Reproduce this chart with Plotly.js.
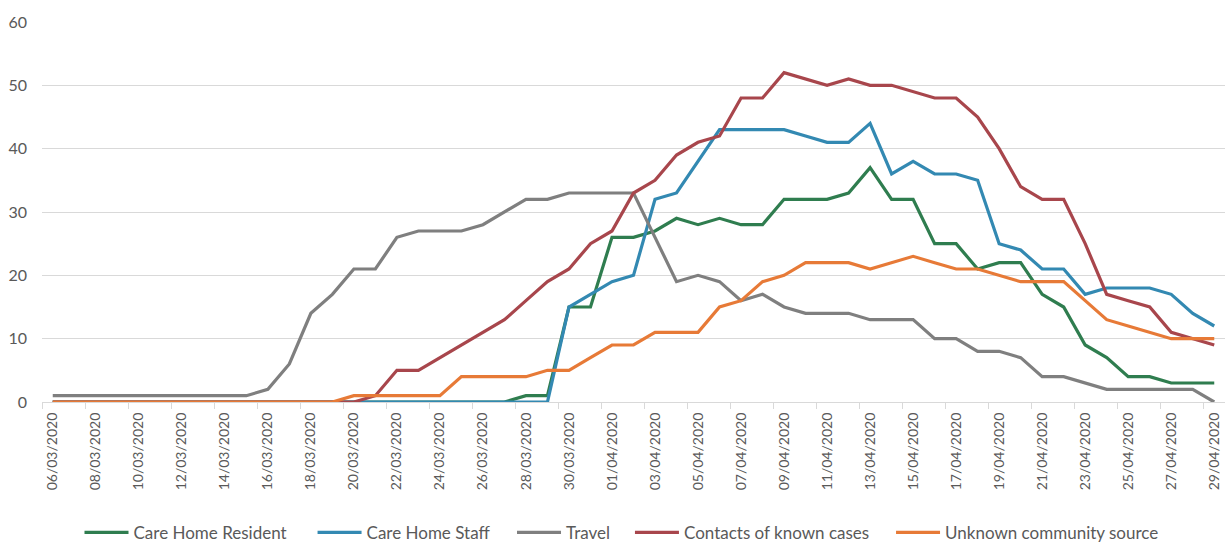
<!DOCTYPE html>
<html>
<head>
<meta charset="utf-8">
<script src="https://cdn.plot.ly/plotly-3.0.1.min.js"></script>
<style>
  html, body { margin: 0; padding: 0; background: #ffffff; }
  #chart { width: 1232px; height: 555px; }
</style>
</head>
<body>
<div id="chart"></div>
<script>
const dates = [
  "06/03/2020","07/03/2020","08/03/2020","09/03/2020","10/03/2020","11/03/2020","12/03/2020","13/03/2020","14/03/2020","15/03/2020",
  "16/03/2020","17/03/2020","18/03/2020","19/03/2020","20/03/2020","21/03/2020","22/03/2020","23/03/2020","24/03/2020","25/03/2020",
  "26/03/2020","27/03/2020","28/03/2020","29/03/2020","30/03/2020","31/03/2020","01/04/2020","02/04/2020","03/04/2020","04/04/2020",
  "05/04/2020","06/04/2020","07/04/2020","08/04/2020","09/04/2020","10/04/2020","11/04/2020","12/04/2020","13/04/2020","14/04/2020",
  "15/04/2020","16/04/2020","17/04/2020","18/04/2020","19/04/2020","20/04/2020","21/04/2020","22/04/2020","23/04/2020","24/04/2020",
  "25/04/2020","26/04/2020","27/04/2020","28/04/2020","29/04/2020"
];

const careHomeResident = [
  0,0,0,0,0,0,0,0,0,0,
  0,0,0,0,0,0,0,0,0,0,
  0,0,1,1,15,15,26,26,27,29,
  28,29,28,28,32,32,32,33,37,32,
  32,25,25,21,22,22,17,15,9,7,
  4,4,3,3,3
];
const careHomeStaff = [
  0,0,0,0,0,0,0,0,0,0,
  0,0,0,0,0,0,0,0,0,0,
  0,0,0,0,15,17,19,20,32,33,
  38,43,43,43,43,42,41,41,44,36,
  38,36,36,35,25,24,21,21,17,18,
  18,18,17,14,12
];
const travel = [
  1,1,1,1,1,1,1,1,1,1,
  2,6,14,17,21,21,26,27,27,27,
  28,30,32,32,33,33,33,33,26,19,
  20,19,16,17,15,14,14,14,13,13,
  13,10,10,8,8,7,4,4,3,2,
  2,2,2,2,0
];
const contactsOfKnownCases = [
  0,0,0,0,0,0,0,0,0,0,
  0,0,0,0,0,1,5,5,7,9,
  11,13,16,19,21,25,27,33,35,39,
  41,42,48,48,52,51,50,51,50,50,
  49,48,48,45,40,34,32,32,25,17,
  16,15,11,10,9
];
const unknownCommunitySource = [
  0,0,0,0,0,0,0,0,0,0,
  0,0,0,0,1,1,1,1,1,4,
  4,4,4,5,5,7,9,9,11,11,
  11,15,16,19,20,22,22,22,21,22,
  23,22,21,21,20,19,19,19,16,13,
  12,11,10,10,10
];

const seriesNames = ["Care Home Resident","Care Home Staff","Travel","Contacts of known cases","Unknown community source"];
const seriesValues = [careHomeResident, careHomeStaff, travel, contactsOfKnownCases, unknownCommunitySource];
const seriesColors = ["#2f7d4f","#3389b2","#7f7f7f","#a8464c","#e77a37"];
const legendIds = ["legend","legend2","legend3","legend4","legend5"];
// left edge (paper fraction) of each legend entry, placed like the original
const legendLeft = [0.0317, 0.2287, 0.3973, 0.4970, 0.7177];

const traces = seriesNames.map((name, i) => ({
  type: "scatter",
  mode: "lines",
  name: name,
  legend: legendIds[i],
  x: dates,
  y: seriesValues[i],
  line: { color: seriesColors[i], width: 3.2 },
  hoverinfo: "x+y+name"
}));

// invisible trace to anchor the overlay axis that carries the between-category tick marks
traces.push({
  type: "scatter", mode: "lines", x: [], y: [], xaxis: "x2", yaxis: "y",
  showlegend: false, hoverinfo: "skip"
});

const labelDates = dates.filter((d, i) => i % 2 === 0);
const boundaryTicks = labelDates.map((d, k) => 2 * k - 0.5);

const layout = {
  width: 1232,
  height: 555,
  autosize: false,
  margin: { l: 42, r: 7, t: 22, b: 153, pad: 0, autoexpand: false },
  paper_bgcolor: "#ffffff",
  plot_bgcolor: "#ffffff",
  font: { family: "Lato, 'Liberation Sans', sans-serif", color: "#595959" },
  showlegend: true,
  xaxis: {
    type: "category",
    categoryorder: "array",
    categoryarray: dates,
    range: [-0.5, dates.length - 0.5],
    tickmode: "array",
    tickvals: labelDates,
    ticktext: labelDates,
    tickangle: -90,
    ticks: "",
    ticklabelstandoff: 4,
    tickfont: { size: 14, color: "#595959" },
    showgrid: false,
    zeroline: false,
    showline: true,
    linecolor: "#d9d9d9",
    linewidth: 1.3,
    automargin: false,
    fixedrange: true
  },
  xaxis2: {
    overlaying: "x",
    anchor: "y",
    type: "linear",
    range: [-0.5, dates.length - 0.5],
    tickmode: "array",
    tickvals: boundaryTicks,
    ticks: "outside",
    ticklen: 6,
    tickwidth: 1.3,
    tickcolor: "#d9d9d9",
    showticklabels: false,
    showgrid: false,
    zeroline: false,
    showline: false,
    automargin: false,
    fixedrange: true
  },
  yaxis: {
    range: [0, 60],
    tickmode: "linear",
    tick0: 0,
    dtick: 10,
    ticks: "",
    ticklabelstandoff: 14,
    tickfont: { size: 16, color: "#595959" },
    showgrid: true,
    gridcolor: "#d9d9d9",
    gridwidth: 1.3,
    zeroline: false,
    showline: false,
    automargin: false,
    fixedrange: true
  }
};

legendIds.forEach((id, i) => {
  layout[id] = {
    orientation: "h",
    x: legendLeft[i], xanchor: "left",
    y: -0.297, yanchor: "top",
    itemwidth: 44,
    font: { size: 17, color: "#595959" },
    bgcolor: "rgba(0,0,0,0)"
  };
});

Plotly.newPlot("chart", traces, layout, { displayModeBar: false, responsive: false });
</script>
</body>
</html>
